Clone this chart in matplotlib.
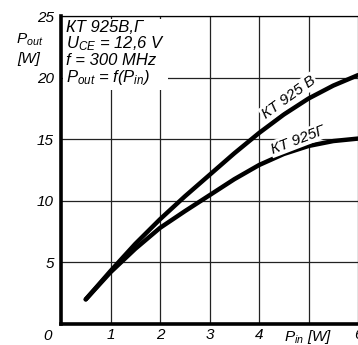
import matplotlib
matplotlib.use("Agg")
import matplotlib.pyplot as plt

# P_in [W] and P_out [W]
p_in = [0.5, 1.0, 1.5, 2.0, 2.5, 3.0, 3.5, 4.0, 4.5, 5.0, 5.5, 6.0]
p_out_v = [2.0, 4.3, 6.5, 8.5, 10.35, 12.1, 13.85, 15.5, 17.0, 18.3, 19.35, 20.2]
p_out_g = [2.0, 4.2, 6.1, 7.8, 9.15, 10.45, 11.75, 12.9, 13.8, 14.45, 14.85, 15.05]

x_ticks = [1, 2, 3, 4, 5, 6]
x_labels = ['1', '2', '3', '4', r'$P_{in}$ [W]', '6']
y_ticks = [5, 10, 15, 20, 25]
y_labels = ['5', '10', '15', '20', '25']

plt.rcParams['font.family'] = ['Liberation Sans', 'DejaVu Sans']
plt.rcParams['font.style'] = 'italic'
plt.rcParams['mathtext.fontset'] = 'custom'
plt.rcParams['mathtext.it'] = 'Liberation Sans:italic'
plt.rcParams['mathtext.rm'] = 'Liberation Sans:italic'

fig = plt.figure(figsize=(3.58, 3.45), dpi=100)
ax = fig.add_axes([61 / 358, 21 / 345, 297 / 358, 308 / 345])
ax.set_xlim(0, 5.96)
ax.set_ylim(0, 25)

for series in (p_out_v, p_out_g):
    ax.plot(p_in, series, color='black', lw=3.2, solid_capstyle='round',
            solid_joinstyle='round', zorder=3)

ax.set_xticks(x_ticks)
ax.set_xticklabels(x_labels, fontsize=11, style='italic')
ax.set_yticks(y_ticks)
ax.set_yticklabels(y_labels, fontsize=11, style='italic')
ax.tick_params(length=0)
ax.tick_params(axis='x', pad=3)
ax.tick_params(axis='y', pad=5)
ax.grid(True, color='#222222', lw=0.9)
ax.set_axisbelow(True)

ax.spines['right'].set_visible(False)
ax.spines['top'].set_linewidth(0.9)
ax.spines['left'].set_linewidth(2.6)
ax.spines['bottom'].set_linewidth(2.6)

fig.text(48 / 358, 1 - 336 / 345, '0', fontsize=11, style='italic',
         ha='center', va='center')
fig.text(30 / 358, 1 - 40 / 345, r'$P_{out}$', fontsize=11,
         ha='center', va='center')
fig.text(29 / 358, 1 - 59 / 345, '[W]', fontsize=11, style='italic',
         ha='center', va='center')

info = ('КТ 925В,Г\n'
        r'$U_{CE}$ = 12,6 V' '\n'
        'f = 300 MHz\n'
        r'$P_{out}$ = f($P_{in}$)')
ax.text(0.1, 24.7, info, fontsize=12, style='italic', va='top', ha='left',
        linespacing=1.0, zorder=4,
        bbox=dict(facecolor='white', edgecolor='none', pad=2))

ax.text(4.6, 18.4, 'КТ 925 В', fontsize=11, style='italic', rotation=36,
        ha='center', va='center', zorder=4,
        bbox=dict(facecolor='white', edgecolor='none', pad=1))
ax.text(4.78, 14.95, 'КТ 925Г', fontsize=11, style='italic', rotation=21,
        ha='center', va='center', zorder=4,
        bbox=dict(facecolor='white', edgecolor='none', pad=1))

fig.savefig('out.png', dpi=100)
